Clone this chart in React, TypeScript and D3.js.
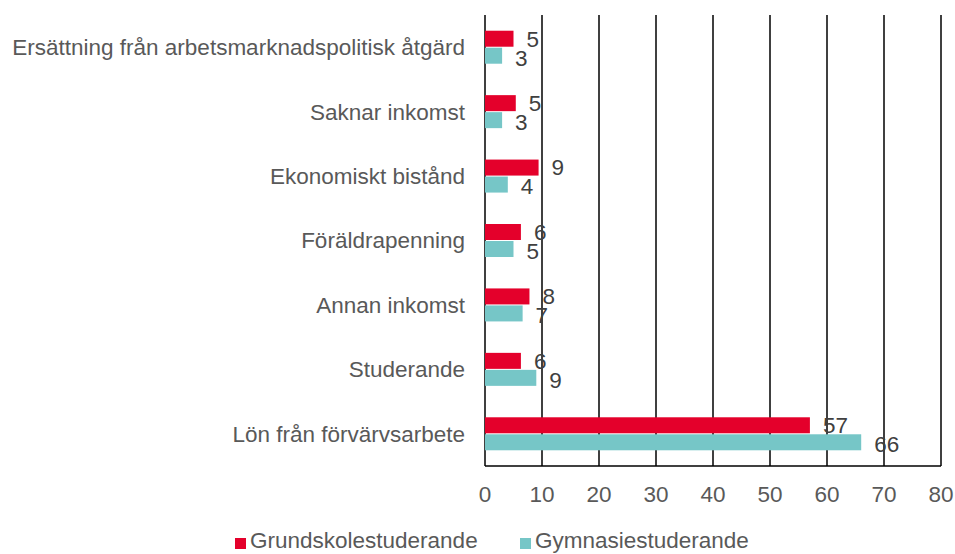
import React from "react";
import * as d3 from "d3";

const categories = [
  "Ersättning från arbetsmarknadspolitisk åtgärd",
  "Saknar inkomst",
  "Ekonomiskt bistånd",
  "Föräldrapenning",
  "Annan inkomst",
  "Studerande",
  "Lön från förvärvsarbete",
];
const grundskola = [5.0, 5.4, 9.4, 6.3, 7.8, 6.3, 57.0];
const gymnasie = [3.0, 3.0, 4.0, 5.0, 6.6, 9.0, 66.0];
const grundskolaLabels = ["5", "5", "9", "6", "8", "6", "57"];
const gymnasieLabels = ["3", "3", "4", "5", "7", "9", "66"];
const xTicks = [0, 10, 20, 30, 40, 50, 60, 70, 80];
const seriesNames = ["Grundskolestuderande", "Gymnasiestuderande"];

const RED = "#e4002b";
const TEAL = "#76c6c7";
const TEXT = "#595959";
const FONT = "'Liberation Sans', Arial, sans-serif";
const FS = 22.5;

export default function App() {
  const width = 955;
  const height = 554;
  const margin = { top: 15, left: 485, right: 14, bottom: 88 };

  const xScale = d3.scaleLinear().domain([0, 80]).range([margin.left, width - margin.right]);
  const yScale = d3
    .scaleBand<string>()
    .domain(categories)
    .range([margin.top, height - margin.bottom]);
  const barH = 16;
  const gap = 1;

  const rows = categories.map((c, i) => ({
    cat: c,
    g: grundskola[i],
    y: gymnasie[i],
    gl: grundskolaLabels[i],
    yl: gymnasieLabels[i],
  }));

  const center = (c: string) => (yScale(c) as number) + yScale.bandwidth() / 2;
  const bottom = height - margin.bottom;

  return (
    <svg
      width={width}
      height={height}
      style={{ position: "absolute", left: 0, top: 0, background: "#fff" }}
      fontFamily={FONT}
    >
      {/* grid */}
      {xTicks.map((t) => (
        <line
          key={"g" + t}
          x1={xScale(t)}
          x2={xScale(t)}
          y1={margin.top}
          y2={bottom}
          stroke="#000"
          strokeWidth={1.5}
        />
      ))}
      <line x1={xScale(0)} x2={xScale(80)} y1={bottom} y2={bottom} stroke="#000" strokeWidth={1.5} />

      {/* bars */}
      {rows.map((d) => {
        const c = center(d.cat);
        return (
          <g key={d.cat}>
            <rect x={xScale(0)} y={c - gap / 2 - barH} width={xScale(d.g) - xScale(0)} height={barH} fill={RED} />
            <rect x={xScale(0)} y={c + gap / 2} width={xScale(d.y) - xScale(0)} height={barH} fill={TEAL} />
            <text
              x={xScale(d.g) + 13}
              y={c - gap / 2 - barH / 2}
              dy="0.35em"
              fontSize={FS}
              fill="#404040"
            >
              {d.gl}
            </text>
            <text
              x={xScale(d.y) + 13}
              y={c + gap / 2 + barH / 2 + 2}
              dy="0.35em"
              fontSize={FS}
              fill="#404040"
            >
              {d.yl}
            </text>
            <text x={465} y={c} dy="0.35em" textAnchor="end" fontSize={FS} fill={TEXT}>
              {d.cat}
            </text>
          </g>
        );
      })}

      {/* x tick labels */}
      {xTicks.map((t) => (
        <text key={"t" + t} x={xScale(t)} y={494} dy="0.35em" textAnchor="middle" fontSize={FS} fill={TEXT}>
          {t}
        </text>
      ))}

      {/* legend */}
      <rect x={235} y={538} width={11} height={11} fill={RED} />
      <text x={250} y={540.5} dy="0.35em" fontSize={FS} fill={TEXT}>
        {seriesNames[0]}
      </text>
      <rect x={520} y={538} width={11} height={11} fill={TEAL} />
      <text x={535} y={540.5} dy="0.35em" fontSize={FS} fill={TEXT}>
        {seriesNames[1]}
      </text>
    </svg>
  );
}
